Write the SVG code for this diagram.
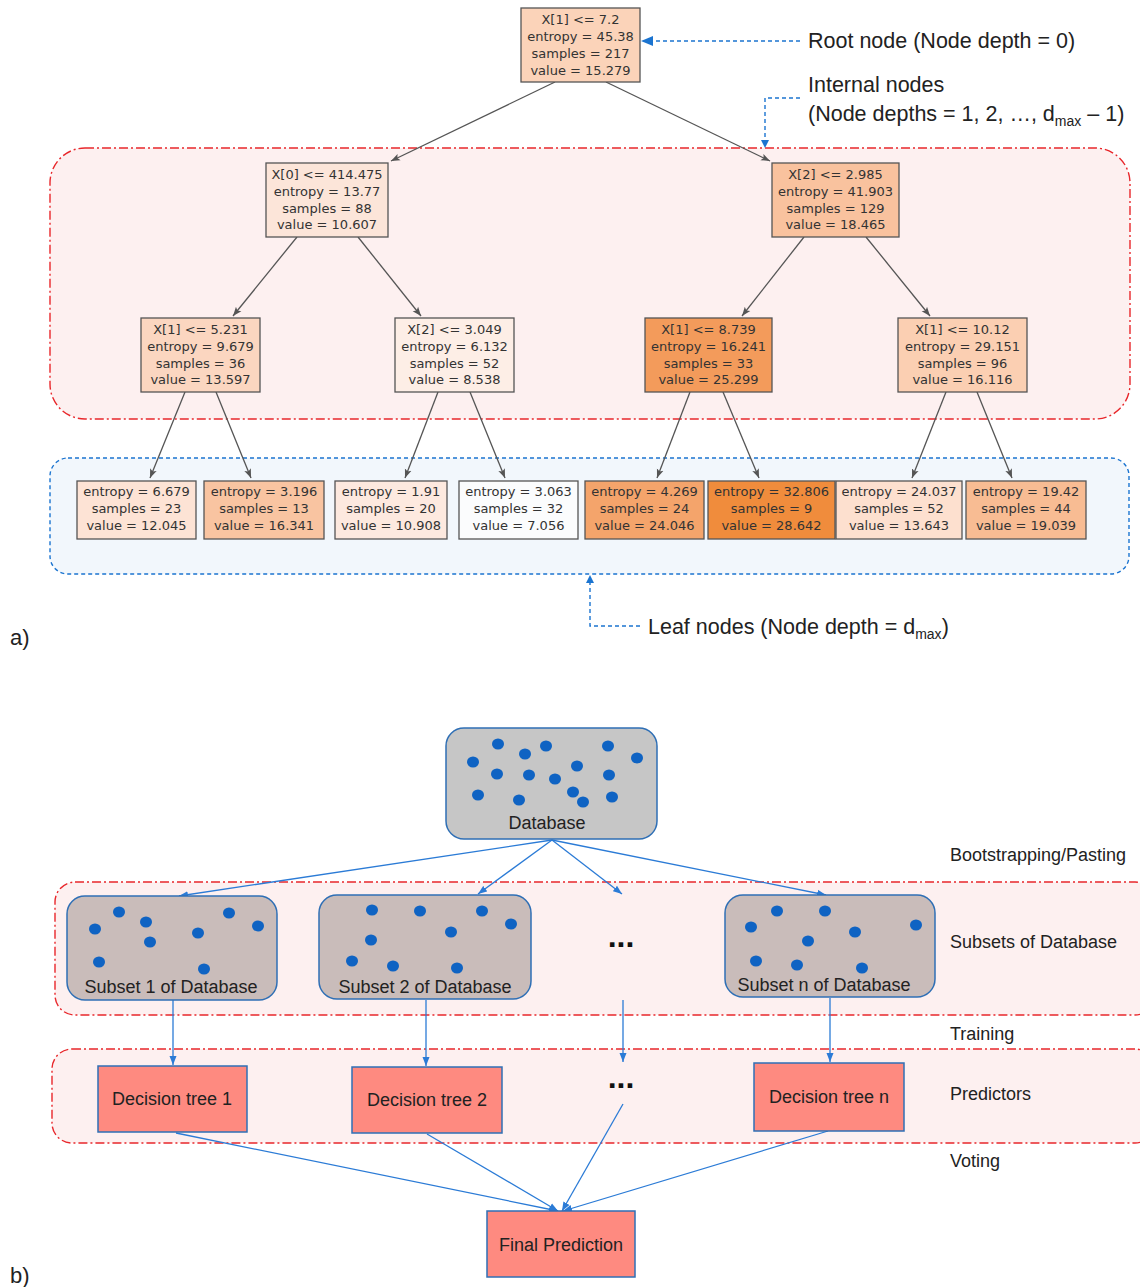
<svg xmlns="http://www.w3.org/2000/svg" width="1140" height="1287" viewBox="0 0 1140 1287">
<defs>
<style>
.tn{font-family:"DejaVu Sans",sans-serif;font-size:13px;fill:#333;text-anchor:middle}
.nb{stroke:#555;stroke-width:1.3}
.te{stroke:#555;stroke-width:1.3;fill:none;marker-end:url(#ga)}
.lab{font-family:"Liberation Sans",sans-serif;fill:#222}
.reg{fill:#fdf0f0;stroke:#e8272b;stroke-width:1.4;stroke-dasharray:9 3 2 3}
.call{stroke:#1b74d0;stroke-width:1.4;fill:none;stroke-dasharray:4 3}
.db{stroke:#2f6fb5;stroke-width:1.5}
.dot{fill:#0f63c3}
.ba{stroke:#2b7bd6;stroke-width:1.3;fill:none;marker-end:url(#ba)}
.bl{font-family:"Liberation Sans",sans-serif;font-size:18px;fill:#222;text-anchor:middle}
.dt{fill:#fe8a80;stroke:#2f6fb5;stroke-width:1.5}
.dots{font-family:"Liberation Sans",sans-serif;font-size:32px;font-weight:bold;fill:#111;text-anchor:middle}
</style>
<marker id="ga" markerUnits="userSpaceOnUse" markerWidth="10" markerHeight="8" refX="9" refY="4" orient="auto"><path d="M0,0.5 L9,4 L0,7.5 L2,4 z" fill="#555"/></marker>
<marker id="ba" markerUnits="userSpaceOnUse" markerWidth="10" markerHeight="8" refX="9" refY="4" orient="auto"><path d="M0,0.5 L9,4 L0,7.5 z" fill="#2b7bd6"/></marker>
</defs>
<rect width="1140" height="1287" fill="#fff"/>

<!-- regions (part a) -->
<rect class="reg" x="50" y="148" width="1080" height="271" rx="35"/>
<rect x="50" y="458" width="1079" height="116" rx="18" fill="#f2f7fc" stroke="#1b74d0" stroke-width="1.4" stroke-dasharray="4 3"/>

<!-- tree connectors -->
<g id="tree-edges">
<line class="te" x1="555" y1="82" x2="391" y2="161"/>
<line class="te" x1="606" y1="82" x2="770" y2="161"/>
<line class="te" x1="297" y1="237" x2="233" y2="316"/>
<line class="te" x1="358" y1="237" x2="421" y2="316"/>
<line class="te" x1="804" y1="237" x2="742" y2="316"/>
<line class="te" x1="866" y1="237" x2="930" y2="316"/>
<line class="te" x1="185" y1="392" x2="150" y2="478"/>
<line class="te" x1="216" y1="392" x2="251" y2="478"/>
<line class="te" x1="438" y1="392" x2="405" y2="478"/>
<line class="te" x1="470" y1="392" x2="505" y2="478"/>
<line class="te" x1="690" y1="392" x2="657" y2="478"/>
<line class="te" x1="723" y1="392" x2="759" y2="478"/>
<line class="te" x1="946" y1="392" x2="912" y2="478"/>
<line class="te" x1="977" y1="392" x2="1012" y2="478"/>
</g>

<!-- tree nodes -->
<g id="root"><rect class="nb" x="521" y="8" width="119" height="74" fill="#fbd3b9"/>
<text class="tn" x="580.5" y="23.5">X[1] &lt;= 7.2</text><text class="tn" x="580.5" y="40.5">entropy = 45.38</text><text class="tn" x="580.5" y="57.5">samples = 217</text><text class="tn" x="580.5" y="74.5">value = 15.279</text></g>

<g id="n1"><rect class="nb" x="266" y="163" width="122" height="74" fill="#fce5d9"/>
<text class="tn" x="327" y="178.5">X[0] &lt;= 414.475</text><text class="tn" x="327" y="195.5">entropy = 13.77</text><text class="tn" x="327" y="212.5">samples = 88</text><text class="tn" x="327" y="228.5">value = 10.607</text></g>

<g id="n2"><rect class="nb" x="772" y="163" width="127" height="74" fill="#f9c29e"/>
<text class="tn" x="835.5" y="178.5">X[2] &lt;= 2.985</text><text class="tn" x="835.5" y="195.5">entropy = 41.903</text><text class="tn" x="835.5" y="212.5">samples = 129</text><text class="tn" x="835.5" y="228.5">value = 18.465</text></g>

<g id="n3"><rect class="nb" x="141" y="318" width="119" height="74" fill="#fbd6c0"/>
<text class="tn" x="200.5" y="333.5">X[1] &lt;= 5.231</text><text class="tn" x="200.5" y="350.5">entropy = 9.679</text><text class="tn" x="200.5" y="367.5">samples = 36</text><text class="tn" x="200.5" y="384">value = 13.597</text></g>

<g id="n4"><rect class="nb" x="395" y="318" width="119" height="74" fill="#fdeee6"/>
<text class="tn" x="454.5" y="333.5">X[2] &lt;= 3.049</text><text class="tn" x="454.5" y="350.5">entropy = 6.132</text><text class="tn" x="454.5" y="367.5">samples = 52</text><text class="tn" x="454.5" y="384">value = 8.538</text></g>

<g id="n5"><rect class="nb" x="645" y="318" width="127" height="74" fill="#f39b5b"/>
<text class="tn" x="708.5" y="333.5">X[1] &lt;= 8.739</text><text class="tn" x="708.5" y="350.5">entropy = 16.241</text><text class="tn" x="708.5" y="367.5">samples = 33</text><text class="tn" x="708.5" y="384">value = 25.299</text></g>

<g id="n6"><rect class="nb" x="898" y="318" width="129" height="74" fill="#fbcfb2"/>
<text class="tn" x="962.5" y="333.5">X[1] &lt;= 10.12</text><text class="tn" x="962.5" y="350.5">entropy = 29.151</text><text class="tn" x="962.5" y="367.5">samples = 96</text><text class="tn" x="962.5" y="384">value = 16.116</text></g>

<g id="leaf1"><rect class="nb" x="77" y="481" width="119" height="58" fill="#fde3d5"/>
<text class="tn" x="136.5" y="495.5">entropy = 6.679</text><text class="tn" x="136.5" y="512.5">samples = 23</text><text class="tn" x="136.5" y="529.5">value = 12.045</text></g>
<g id="leaf2"><rect class="nb" x="204" y="481" width="120" height="58" fill="#f9c4a1"/>
<text class="tn" x="264" y="495.5">entropy = 3.196</text><text class="tn" x="264" y="512.5">samples = 13</text><text class="tn" x="264" y="529.5">value = 16.341</text></g>
<g id="leaf3"><rect class="nb" x="335" y="481" width="112" height="58" fill="#fde9df"/>
<text class="tn" x="391" y="495.5">entropy = 1.91</text><text class="tn" x="391" y="512.5">samples = 20</text><text class="tn" x="391" y="529.5">value = 10.908</text></g>
<g id="leaf4"><rect class="nb" x="459" y="481" width="119" height="58" fill="#fbfcfd"/>
<text class="tn" x="518.5" y="495.5">entropy = 3.063</text><text class="tn" x="518.5" y="512.5">samples = 32</text><text class="tn" x="518.5" y="529.5">value = 7.056</text></g>
<g id="leaf5"><rect class="nb" x="585" y="481" width="119" height="58" fill="#f4a46b"/>
<text class="tn" x="644.5" y="495.5">entropy = 4.269</text><text class="tn" x="644.5" y="512.5">samples = 24</text><text class="tn" x="644.5" y="529.5">value = 24.046</text></g>
<g id="leaf6"><rect class="nb" x="708" y="481" width="127" height="58" fill="#f08c3c"/>
<text class="tn" x="771.5" y="495.5">entropy = 32.806</text><text class="tn" x="771.5" y="512.5">samples = 9</text><text class="tn" x="771.5" y="529.5">value = 28.642</text></g>
<g id="leaf7"><rect class="nb" x="836" y="481" width="126" height="58" fill="#fde0cf"/>
<text class="tn" x="899" y="495.5">entropy = 24.037</text><text class="tn" x="899" y="512.5">samples = 52</text><text class="tn" x="899" y="529.5">value = 13.643</text></g>
<g id="leaf8"><rect class="nb" x="966" y="481" width="120" height="58" fill="#f8bc93"/>
<text class="tn" x="1026" y="495.5">entropy = 19.42</text><text class="tn" x="1026" y="512.5">samples = 44</text><text class="tn" x="1026" y="529.5">value = 19.039</text></g>

<!-- callouts -->
<g id="callouts">
<line class="call" x1="800" y1="41" x2="652" y2="41"/>
<path d="M641,41 L653,36 L653,46 z" fill="#1b74d0"/>
<polyline class="call" points="800,98 765,98 765,141"/>
<path d="M765,148 L761,140 L769,140 z" fill="#1b74d0"/>
<polyline class="call" points="640,626 590,626 590,582"/>
<path d="M590,575 L586,583 L594,583 z" fill="#1b74d0"/>
</g>
<text class="lab" x="808" y="48" font-size="21.5">Root node (Node depth = 0)</text>
<text class="lab" x="808" y="92" font-size="21.5">Internal nodes</text>
<text class="lab" x="808" y="121" font-size="21.5">(Node depths = 1, 2, …, d<tspan font-size="14" dy="5">max</tspan><tspan dy="-5"> – 1)</tspan></text>
<text class="lab" x="648" y="634" font-size="21.5">Leaf nodes (Node depth = d<tspan font-size="14" dy="5">max</tspan><tspan dy="-5">)</tspan></text>
<text class="lab" x="10" y="645" font-size="22">a)</text>
<text class="lab" x="10" y="1283" font-size="22">b)</text>

<!-- part b regions -->
<rect class="reg" x="55" y="882" width="1100" height="133" rx="20"/>
<rect class="reg" x="52" y="1049" width="1103" height="94" rx="20"/>

<!-- side labels -->
<text class="lab" x="950" y="861" font-size="18">Bootstrapping/Pasting</text>
<text class="lab" x="950" y="948" font-size="18">Subsets of Database</text>
<text class="lab" x="950" y="1040" font-size="18">Training</text>
<text class="lab" x="950" y="1100" font-size="18">Predictors</text>
<text class="lab" x="950" y="1167" font-size="18">Voting</text>

<!-- connectors part b -->
<g id="ensemble-edges">
<line class="ba" x1="552" y1="840" x2="179" y2="896"/>
<line class="ba" x1="552" y1="840" x2="478" y2="894"/>
<line class="ba" x1="552" y1="840" x2="622" y2="894"/>
<line class="ba" x1="552" y1="840" x2="826" y2="895"/>
<line class="ba" x1="173" y1="1000" x2="173" y2="1065"/>
<line class="ba" x1="426" y1="1000" x2="426" y2="1066"/>
<line class="ba" x1="623" y1="1000" x2="623" y2="1062"/>
<line class="ba" x1="830" y1="998" x2="830" y2="1062"/>
<line class="ba" x1="176" y1="1133" x2="558" y2="1211"/>
<line class="ba" x1="427" y1="1134" x2="558" y2="1211"/>
<line class="ba" x1="623" y1="1104" x2="562" y2="1211"/>
<line class="ba" x1="828" y1="1131" x2="563" y2="1211"/>
</g>

<g id="database">
<rect class="db" x="446" y="728" width="211" height="111" rx="18" fill="#c6c6c6"/>
<ellipse class="dot" cx="498" cy="744" rx="6" ry="5.5"/><ellipse class="dot" cx="546" cy="746" rx="6" ry="5.5"/>
<ellipse class="dot" cx="608" cy="746" rx="6" ry="5.5"/><ellipse class="dot" cx="473" cy="762" rx="6" ry="5.5"/>
<ellipse class="dot" cx="525" cy="754" rx="6" ry="5.5"/><ellipse class="dot" cx="637" cy="758" rx="6" ry="5.5"/>
<ellipse class="dot" cx="577" cy="766" rx="6" ry="5.5"/><ellipse class="dot" cx="497" cy="774" rx="6" ry="5.5"/>
<ellipse class="dot" cx="529" cy="775" rx="6" ry="5.5"/><ellipse class="dot" cx="555" cy="779" rx="6" ry="5.5"/>
<ellipse class="dot" cx="609" cy="775" rx="6" ry="5.5"/><ellipse class="dot" cx="478" cy="795" rx="6" ry="5.5"/>
<ellipse class="dot" cx="519" cy="800" rx="6" ry="5.5"/><ellipse class="dot" cx="573" cy="792" rx="6" ry="5.5"/>
<ellipse class="dot" cx="583" cy="802" rx="6" ry="5.5"/><ellipse class="dot" cx="612" cy="797" rx="6" ry="5.5"/>
<text class="bl" x="547" y="829">Database</text>
</g>

<g id="subset1">
<rect class="db" x="67" y="896" width="210" height="104" rx="18" fill="#c9bcba"/>
<ellipse class="dot" cx="119" cy="912" rx="6" ry="5.5"/><ellipse class="dot" cx="95" cy="929" rx="6" ry="5.5"/>
<ellipse class="dot" cx="146" cy="922" rx="6" ry="5.5"/><ellipse class="dot" cx="150" cy="942" rx="6" ry="5.5"/>
<ellipse class="dot" cx="229" cy="913" rx="6" ry="5.5"/><ellipse class="dot" cx="258" cy="926" rx="6" ry="5.5"/>
<ellipse class="dot" cx="198" cy="933" rx="6" ry="5.5"/><ellipse class="dot" cx="99" cy="962" rx="6" ry="5.5"/>
<ellipse class="dot" cx="204" cy="969" rx="6" ry="5.5"/>
<text class="bl" x="171" y="993">Subset 1 of Database</text>
</g>

<g id="subset2">
<rect class="db" x="319" y="895" width="212" height="104" rx="18" fill="#c9bcba"/>
<ellipse class="dot" cx="372" cy="910" rx="6" ry="5.5"/><ellipse class="dot" cx="420" cy="911" rx="6" ry="5.5"/>
<ellipse class="dot" cx="482" cy="911" rx="6" ry="5.5"/><ellipse class="dot" cx="511" cy="924" rx="6" ry="5.5"/>
<ellipse class="dot" cx="451" cy="932" rx="6" ry="5.5"/><ellipse class="dot" cx="371" cy="940" rx="6" ry="5.5"/>
<ellipse class="dot" cx="352" cy="961" rx="6" ry="5.5"/><ellipse class="dot" cx="393" cy="966" rx="6" ry="5.5"/>
<ellipse class="dot" cx="457" cy="968" rx="6" ry="5.5"/>
<text class="bl" x="425" y="993">Subset 2 of Database</text>
</g>

<g id="subset-dots"><text class="dots" x="621" y="947">...</text></g>

<g id="subsetn">
<rect class="db" x="725" y="895" width="210" height="102" rx="18" fill="#c9bcba"/>
<ellipse class="dot" cx="777" cy="911" rx="6" ry="5.5"/><ellipse class="dot" cx="825" cy="911" rx="6" ry="5.5"/>
<ellipse class="dot" cx="751" cy="927" rx="6" ry="5.5"/><ellipse class="dot" cx="916" cy="925" rx="6" ry="5.5"/>
<ellipse class="dot" cx="855" cy="932" rx="6" ry="5.5"/><ellipse class="dot" cx="808" cy="941" rx="6" ry="5.5"/>
<ellipse class="dot" cx="756" cy="961" rx="6" ry="5.5"/><ellipse class="dot" cx="797" cy="965" rx="6" ry="5.5"/>
<ellipse class="dot" cx="862" cy="968" rx="6" ry="5.5"/>
<text class="bl" x="824" y="991">Subset n of Database</text>
</g>

<g id="tree1"><rect class="dt" x="98" y="1066" width="149" height="66"/><text class="bl" x="172" y="1105">Decision tree 1</text></g>
<g id="tree2"><rect class="dt" x="352" y="1067" width="150" height="66"/><text class="bl" x="427" y="1106">Decision tree 2</text></g>
<g id="tree-dots"><text class="dots" x="621" y="1088">...</text></g>
<g id="treen"><rect class="dt" x="754" y="1063" width="150" height="68"/><text class="bl" x="829" y="1103">Decision tree n</text></g>
<g id="final"><rect class="dt" x="487" y="1211" width="148" height="66"/><text class="bl" x="561" y="1251">Final Prediction</text></g>
</svg>
